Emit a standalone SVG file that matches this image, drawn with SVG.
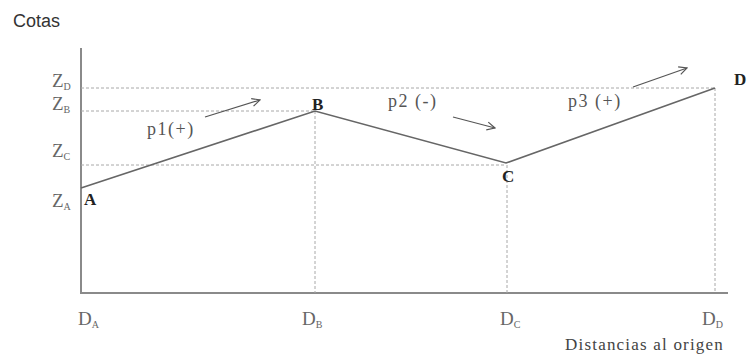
<svg xmlns="http://www.w3.org/2000/svg" width="748" height="356" viewBox="0 0 748 356">
<style>
.ax{stroke:#8a8a8a;stroke-width:2;fill:none}
.dash{stroke:#a8a8a8;stroke-width:1;stroke-dasharray:3,2;fill:none}
.prof{stroke:#666;stroke-width:1.6;fill:none}
.arr{stroke:#555;stroke-width:1.2;fill:none}
.lbl{font-family:"Liberation Serif","Times New Roman",serif;font-size:18px;fill:#555;letter-spacing:1.5px}
.ax-l{font-family:"Liberation Serif","Times New Roman",serif;font-size:19px;fill:#666}
.pt{font-family:"Liberation Serif","Times New Roman",serif;font-size:17px;font-weight:bold;fill:#222}
.sub{font-size:10px}
.ttl{font-family:"Liberation Sans",Arial,sans-serif;font-size:18px;fill:#333}
.cap{font-family:"Liberation Serif","Times New Roman",serif;font-size:17px;fill:#444;letter-spacing:1.2px}
</style>
<defs>
<marker id="ah" markerWidth="10" markerHeight="10" refX="9" refY="5" orient="auto" markerUnits="userSpaceOnUse">
<path d="M1,1 L9,5 L1,9" fill="none" stroke="#555" stroke-width="1.2"/>
</marker>
</defs>
<rect width="748" height="356" fill="#fff"/>
<text class="ttl" x="13" y="27">Cotas</text>
<g id="axes">
<path class="ax" d="M81,48 V293 H728"/>
</g>
<g id="connectors">
<path class="dash" d="M81,88 H715"/>
<path class="dash" d="M81,111 H315"/>
<path class="dash" d="M81,165 H506"/>
<path class="dash" d="M315,111 V293"/>
<path class="dash" d="M507,165 V293"/>
<path class="dash" d="M715,88 V293"/>
<path class="prof" d="M81,188 L315,111 L506,163 L715,88"/>
<path class="arr" d="M205,117 L260,100" marker-end="url(#ah)"/>
<path class="arr" d="M453,117 L495,128" marker-end="url(#ah)"/>
<path class="arr" d="M633,87 L687,68" marker-end="url(#ah)"/>
</g>
<g id="zlabels">
<text class="ax-l" x="52" y="87">Z<tspan class="sub" dy="3">D</tspan></text>
<text class="ax-l" x="52" y="110">Z<tspan class="sub" dy="3">B</tspan></text>
<text class="ax-l" x="52" y="157">Z<tspan class="sub" dy="3">C</tspan></text>
<text class="ax-l" x="52" y="207">Z<tspan class="sub" dy="3">A</tspan></text>
</g>
<g id="nodeA"><text class="pt" x="84" y="205">A</text></g>
<g id="nodeB"><text class="pt" x="312" y="110">B</text></g>
<g id="nodeC"><text class="pt" x="502" y="182">C</text></g>
<g id="nodeD"><text class="pt" x="734" y="85">D</text></g>
<g id="slopes">
<text class="lbl" x="147" y="135">p1(+)</text>
<text class="lbl" x="388" y="107">p2 (-)</text>
<text class="lbl" x="568" y="107">p3 (+)</text>
</g>
<g id="dlabels">
<text class="ax-l" x="78" y="325">D<tspan class="sub" dy="3">A</tspan></text>
<text class="ax-l" x="302" y="325">D<tspan class="sub" dy="3">B</tspan></text>
<text class="ax-l" x="500" y="325">D<tspan class="sub" dy="3">C</tspan></text>
<text class="ax-l" x="702" y="325">D<tspan class="sub" dy="3">D</tspan></text>
<text class="cap" x="565" y="350">Distancias al origen</text>
</g>
</svg>
